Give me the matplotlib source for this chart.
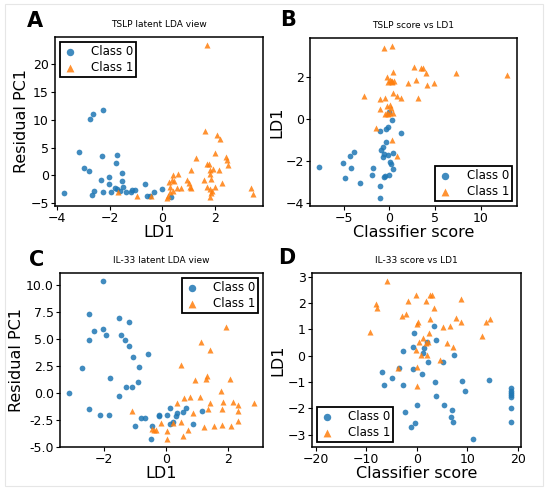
import matplotlib
matplotlib.use("Agg")
import matplotlib.pyplot as plt
from matplotlib.patches import Rectangle
from matplotlib.ticker import MultipleLocator, FormatStrFormatter

# Panel A : TSLP latent LDA view
a_c0_x = [-3.71, -3.14, -2.97, -2.78, -2.73, -2.62, -2.67, -2.59, -2.24, -2.28, -2.25, -2.32,
          -2.03, -2.03, -1.96, -1.72, -1.75, -1.81, -1.72, -1.62, -1.52, -1.54, -1.49, -1.37,
          -1.20, -1.14, -1.05, -0.65, -0.57, -0.46, -0.33, 0.00, 0.34]
a_c0_y = [-3.2, 4.3, 1.4, 0.8, 10.1, 11.0, -3.5, -2.7, 11.7, 3.5, -2.9, -0.8,
          -0.2, -1.5, -2.9, 3.6, 2.2, -2.2, -2.4, -2.8, 0.5, -1.0, -2.0, -2.9,
          -2.9, -2.6, -2.6, -1.5, -3.6, -3.6, -3.0, -2.4, -3.9]
a_c1_x = [-1.68, -0.95, -0.42, 0.22, 0.18, 0.28, 0.30, 0.27, 0.37, 0.41, 0.44, 0.41, 0.56,
          0.59, 0.72, 0.95, 1.00, 1.04, 1.10, 1.08, 1.28, 1.57, 1.62, 1.70, 1.77, 1.82,
          1.81, 1.84, 1.71, 1.80, 1.84, 1.80, 1.90, 1.92, 1.99, 2.00, 2.06, 2.18, 2.15,
          2.28, 2.42, 2.44, 2.49, 3.35, 3.46, 1.71]
a_c1_y = [-3.0, -3.75, -3.6, -3.75, -4.1, -3.0, -2.1, -1.1, -0.8, 0.05, -0.95, -2.7, -2.3,
          0.2, -2.3, -0.8, -1.4, -2.0, -2.3, 1.0, 3.2, -0.8, 8.0, 2.0, 2.0, 1.0,
          0.2, -0.7, -2.1, -2.4, -3.2, -3.9, -2.7, 1.1, -2.0, 4.0, 7.3, 6.6, 0.9,
          -1.4, 3.4, 2.7, 1.9, -2.3, -3.4, 23.5]

# Panel B : TSLP score vs LD1
b_c0_x = [-7.64, -5.05, -4.84, -4.33, -4.22, -3.85, -3.24, -1.85, -1.78, -1.05, -0.98, -1.05,
          -0.91, -0.69, -0.65, -0.62, -0.55, -0.47, -0.36, -0.36, -0.11, -0.04, -0.11, -0.07,
          0.11, 0.33, 0.18, 0.40, 0.44, 1.31]
b_c0_y = [-2.27, -2.07, -2.83, -1.74, -2.32, -1.56, -3.03, -2.67, -2.31, -3.19, -3.78, -0.57,
          -1.45, -1.33, -1.80, -1.64, -2.75, -2.72, -1.10, -0.46, -0.38, 0.33, -1.72, -2.67,
          -2.04, -0.02, -2.12, -2.37, -1.61, -0.66]
b_c1_x = [-0.55, 0.33, 0.44, -0.29, 0.04, 0.15, 0.25, 0.33, 0.51, -0.11, 2.73, 3.42, 3.71,
          4.00, 2.95, 2.00, 4.11, 4.87, 7.27, 12.9, -2.73, -1.05, -0.44, 0.44, 0.84, 1.24,
          3.16, -1.05, -0.25, 0.11, 0.18, -0.29, -0.11, 0.04, 0.44, -0.47, -1.42, 0.25, 0.84]
b_c1_y = [3.41, 3.51, 2.27, 1.99, 1.88, 1.80, 1.83, 1.75, 1.80, 1.75, 2.51, 2.46, 2.46,
          2.18, 1.86, 1.72, 1.63, 1.72, 2.20, 2.09, 1.09, 0.95, 1.03, 1.26, 1.12, 1.01,
          1.01, 0.46, 0.63, 0.68, 0.51, 0.30, 0.25, 0.30, 0.28, 0.25, -0.41, -0.98, -1.74]

# Panel C : IL-33 latent LDA view
c_c0_x = [-3.13, -2.71, -2.50, -2.50, -2.50, -2.32, -2.12, -2.04, -2.04, -1.95, -1.84, -1.82,
          -1.53, -1.51, -1.44, -1.32, -1.30, -1.21, -1.20, -1.09, -1.08, -0.99, -0.90, -0.88,
          -0.82, -0.69, -0.58, -0.46, -0.48, -0.23, -0.23, 0.04, 0.12, 0.12, 0.23, 0.31,
          0.35, 0.55, 0.63, 0.87, 1.16]
c_c0_y = [0.0, 2.3, 7.35, 4.95, -1.48, 5.78, -2.09, 10.4, 5.9, 5.35, -2.0, 1.38,
          6.92, -0.25, 5.35, 4.9, 0.55, 4.37, 6.55, 0.55, 3.38, -3.08, 1.05, 2.4,
          -2.28, -2.37, 3.66, -3.05, -4.25, -2.0, -2.15, -2.09, -1.35, -2.86, -2.74, -2.12,
          -1.9, -1.78, -1.35, -2.92, -1.63]
c_c1_x = [-1.11, -0.47, -0.39, -0.33, -0.15, 0.03, 0.04, 0.24, 0.35, 0.49, 0.49, 0.57, 0.55,
          0.70, 0.76, 0.88, 0.94, 1.08, 1.13, 1.29, 1.33, 1.34, 1.41, 1.43, 1.23, 1.77,
          1.80, 1.84, 1.81, 1.55, 1.93, 2.07, 2.09, 2.16, 2.31, 2.31, 2.31, 2.83]
c_c1_y = [-1.63, -3.32, -3.42, -3.42, -2.83, -3.54, -4.28, -2.77, -0.89, -2.65, 2.58, -0.43, -3.97,
          -3.42, -0.37, -1.82, 1.2, -0.34, 4.77, 1.32, 1.57, -1.51, -0.89, 4.0, -3.2, 0.22,
          -1.45, -0.83, -3.02, -3.05, 6.15, 1.32, -3.11, -0.8, -1.72, -1.08, -2.62, -0.92]

# Panel D : IL-33 score vs LD1
d_c0_x = [-18.9, -6.86, -6.6, -4.95, -3.5, -2.84, -2.7, -2.44, -1.19, -0.79, -0.73, -0.59,
          -0.4, 0.07, 1.06, 1.19, 1.45, 2.05, 2.18, 3.3, 3.63, 3.76, 3.83, 5.15, 5.28, 6.67,
          7.0, 7.13, 7.33, 8.91, 9.44, 11.1, 14.3, 18.7, 18.7, 18.7, 18.7, 18.7, 18.7, 18.7]
d_c0_y = [-2.06, -0.6, -1.11, -0.85, -0.46, 0.2, -1.1, -2.15, -2.72, 0.32, -0.51, 0.87,
          -2.54, -1.85, -0.7, 0.1, 0.28, 0.51, -0.24, 1.14, -1.0, -1.52, 0.61, -0.24, -1.87, -2.34,
          -2.05, -2.53, 0.04, -0.94, -1.32, -3.16, -0.9, -1.23, -1.32, -1.4, -1.49, -1.58, -1.99, -2.53]
d_c1_x = [-9.24, -8.18, -7.92, -5.87, -3.83, -2.97, -2.11, -1.78, -0.13, 0.0, -0.07, 0.0,
          0.2, 0.33, -0.2, 0.79, 1.19, 1.72, 1.78, 1.98, 2.18, 2.38, 2.51, 2.64, 2.97, 3.43,
          4.49, 5.15, 5.94, 6.47, 7.19, 7.66, 8.65, 8.78, 12.87, 13.7, 14.5]
d_c1_y = [0.92, 1.96, 1.8, 2.84, -0.48, 1.51, 1.57, 2.06, 2.32, -0.41, -1.16, 1.19,
          1.3, 0.52, 0.23, 0.03, 0.67, 2.08, 0.47, 0.04, 0.51, 0.85, 1.41, 2.32, 2.32, 1.81,
          -0.15, 1.09, 0.47, 1.13, 0.33, 1.43, 1.29, 2.16, 0.76, 1.3, 1.41]

panneaux = [
    ("A", "TSLP latent LDA view", "LD1", "Residual PC1", a_c0_x, a_c0_y, a_c1_x, a_c1_y,
     "upper left", [0.100, 0.5796, 0.378, 0.345], (-0.096, 1.095), 5, None),
    ("B", "TSLP score vs LD1", "Classifier score", "LD1", b_c0_x, b_c0_y, b_c1_x, b_c1_y,
     "lower right", [0.5636, 0.5796, 0.376, 0.343], (-0.106, 1.107), 2, None),
    ("C", "IL-33 latent LDA view", "LD1", "Residual PC1", c_c0_x, c_c0_y, c_c1_x, c_c1_y,
     "upper right", [0.109, 0.0878, 0.369, 0.355], (-0.113, 1.075), 2.5, "%.1f"),
    ("D", "IL-33 score vs LD1", "Classifier score", "LD1", d_c0_x, d_c0_y, d_c1_x, d_c1_y,
     "lower left", [0.567, 0.0878, 0.380, 0.355], (-0.12, 1.086), 1, None),
]

fig = plt.figure(figsize=(5.5, 4.9), dpi=100)
fig.patches.append(Rectangle((5 / 550, 4 / 490), 538 / 550, 482 / 490, transform=fig.transFigure,
                             fill=False, edgecolor="#e6e6e6", linewidth=0.8))

for lettre, titre, xlab, ylab, x0, y0, x1, y1, loc, pos, pos_lettre, pas_y, fmt_y in panneaux:
    ax = fig.add_axes(pos)
    ax.scatter(x0, y0, s=17, marker="o", color="#1f77b4", alpha=0.85, linewidths=0, label="Class 0")
    ax.scatter(x1, y1, s=19, marker="^", color="#ff7f0e", alpha=0.85, linewidths=0, label="Class 1")
    ax.yaxis.set_major_locator(MultipleLocator(pas_y))
    if fmt_y:
        ax.yaxis.set_major_formatter(FormatStrFormatter(fmt_y))
    ax.set_title(titre, fontsize=6.5, pad=7)
    ax.set_xlabel(xlab, fontsize=11.5, labelpad=0)
    ax.set_ylabel(ylab, fontsize=11.5, labelpad=1)
    ax.tick_params(labelsize=9, length=3, pad=1.5)
    for sp in ax.spines.values():
        sp.set_linewidth(1.1)
    leg = ax.legend(loc=loc, fontsize=8.5, fancybox=False, framealpha=1, edgecolor="black",
                    borderpad=0.25, labelspacing=0.3, handlelength=1.2, handletextpad=1.2,
                    borderaxespad=0.4, markerscale=1.3)
    leg.get_frame().set_linewidth(1.3)
    ax.text(pos_lettre[0], pos_lettre[1], lettre, transform=ax.transAxes,
            fontsize=15, fontweight="bold", ha="center", va="center")

fig.savefig("out.png", dpi=100)
